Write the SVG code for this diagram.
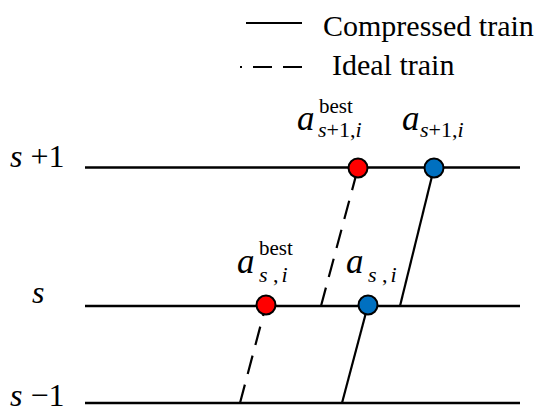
<svg xmlns="http://www.w3.org/2000/svg" width="541" height="412" viewBox="0 0 541 412">
<style>
text{font-family:'Liberation Serif','Times New Roman','DejaVu Serif',serif;fill:#000}
.it{font-style:italic}
.axis{stroke:#000;stroke-width:2.5;fill:none}
.solid{stroke:#000;stroke-width:2.2;fill:none}
.dash{stroke:#000;stroke-width:2.2;fill:none;stroke-dasharray:19 11}
.red{fill:#ff0000;stroke:#000;stroke-width:2}
.blue{fill:#0070c0;stroke:#000;stroke-width:2}
</style>
<rect width="541" height="412" fill="#fff"/>
<g id="legend">
<line class="solid" x1="246" y1="23" x2="302" y2="23"/>
<line class="dash" x1="302" y1="67" x2="240" y2="67"/>
<text x="323" y="36" font-size="30">Compressed train</text>
<text x="332" y="75" font-size="30">Ideal train</text>
</g>
<g id="levels">
<line class="axis" x1="85" y1="167.5" x2="520" y2="167.5"/>
<line class="axis" x1="85" y1="306" x2="520" y2="306"/>
<line class="axis" x1="85" y1="403" x2="520" y2="403"/>
<text x="10" y="167" font-size="32"><tspan class="it">s</tspan> +1</text>
<text class="it" x="32" y="303" font-size="32">s</text>
<text x="10" y="406" font-size="32"><tspan class="it">s</tspan> −1</text>
</g>
<g id="connectors">
<line class="dash" x1="321" y1="306" x2="358" y2="168"/>
<line class="solid" x1="400" y1="306" x2="434" y2="168"/>
<line class="dash" x1="240" y1="403" x2="266" y2="305"/>
<line class="solid" x1="342" y1="403" x2="368" y2="305"/>
</g>
<g id="node-best-s1">
<circle class="red" cx="358" cy="168" r="9.5"/>
<text class="it" x="297" y="130" font-size="35">a</text>
<text x="319" y="113" font-size="21">best</text>
<text x="318" y="137" font-size="22"><tspan class="it">s</tspan>+1,<tspan class="it">i</tspan></text>
</g>
<g id="node-a-s1">
<circle class="blue" cx="434" cy="168" r="9.5"/>
<text class="it" x="402" y="130" font-size="35">a</text>
<text x="420" y="137" font-size="22"><tspan class="it">s</tspan>+1,<tspan class="it">i</tspan></text>
</g>
<g id="node-best-s">
<circle class="red" cx="266" cy="305" r="9.5"/>
<text class="it" x="237" y="273" font-size="35">a</text>
<text x="259" y="255" font-size="21">best</text>
<text x="259" y="282" font-size="22"><tspan class="it">s</tspan> ,<tspan class="it" dx="3">i</tspan></text>
</g>
<g id="node-a-s">
<circle class="blue" cx="368" cy="305" r="9.5"/>
<text class="it" x="346" y="273" font-size="35">a</text>
<text x="368" y="282" font-size="22"><tspan class="it">s</tspan> ,<tspan class="it" dx="3">i</tspan></text>
</g>
</svg>
